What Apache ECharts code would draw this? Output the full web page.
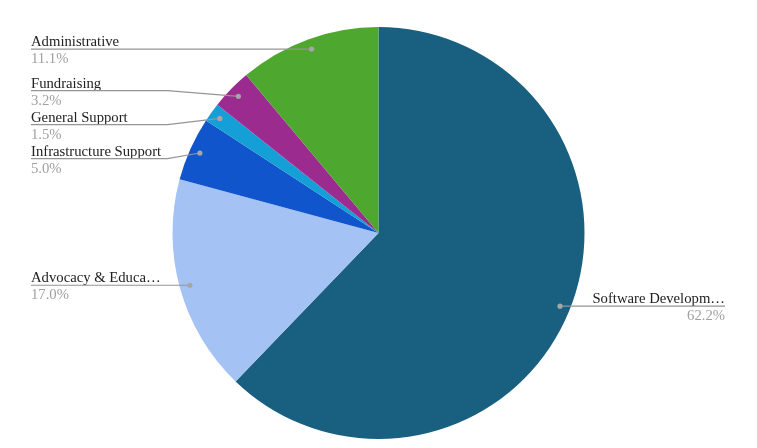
<!DOCTYPE html>
<html>
<head>
<meta charset="utf-8">
<title>Spending pie</title>
<script src="https://cdn.jsdelivr.net/npm/echarts@6/dist/echarts.min.js"></script>
<style>
html,body{margin:0;padding:0;background:#fff;}
#chart{width:757px;height:448px;}
</style>
</head>
<body>
<div id="chart"></div>
<script>
// data, clockwise from 12 o'clock
var names = ['Software Development', 'Advocacy & Education', 'Infrastructure Support', 'General Support', 'Fundraising', 'Administrative'];
var values = [62.2, 17.0, 5.0, 1.5, 3.2, 11.1];
var colors = ['#185f80', '#a4c2f4', '#1155cc', '#149fd6', '#9c2b90', '#4ea72e'];

var W = 757, CX = 378.5, CY = 233, R = 206;
var DOT = 0.95;      // where the label line starts, as part of the radius
var GAP = 34;        // vertical room one label needs
var MAXW = 133.3;    // longest label name before it gets cut
var FONT = 'Liberation Serif, Times New Roman, serif';
var FSIZE = 14.7;

var total = 0;
values.forEach(function (v) { total += v; });

// middle of each slice, in value units
var mids = [];
var acc = 0;
for (var i = 0; i < values.length; i++) {
    mids.push(acc + values[i] / 2);
    acc += values[i];
}

function dotPos(i) {
    var a = mids[i] / total * 2 * Math.PI;
    return [CX + DOT * R * Math.sin(a), CY - DOT * R * Math.cos(a)];
}

// cut long names with an ellipsis, like the sheet does
var ctx = document.createElement('canvas').getContext('2d');
ctx.font = FSIZE + 'px ' + FONT;
function shorten(s) {
    if (ctx.measureText(s).width <= MAXW) return s;
    var n = s.length;
    while (n > 0 && ctx.measureText(s.slice(0, n) + '\u2026').width > MAXW) n--;
    return s.slice(0, n).replace(/\s+$/, '') + '\u2026';
}

// label heights: start level with the dot, spread the ones that collide
// (a crowded group is centred between its first and last dot)
var labelY = [];
function spread(list) {
    list.sort(function (a, b) { return a.y - b.y; });
    var groups = list.map(function (o) { return { items: [o] }; });
    function place(g) {
        var n = g.items.length;
        var mid = (g.items[0].y + g.items[n - 1].y) / 2;
        g.top = mid - (n - 1) * GAP / 2;
    }
    groups.forEach(place);
    var changed = true;
    while (changed) {
        changed = false;
        for (var k = 0; k < groups.length - 1; k++) {
            var a = groups[k], b = groups[k + 1];
            if (a.top + a.items.length * GAP > b.top) {
                a.items = a.items.concat(b.items);
                place(a);
                groups.splice(k + 1, 1);
                changed = true;
                break;
            }
        }
    }
    groups.forEach(function (g) {
        g.items.forEach(function (o, j) { labelY[o.i] = g.top + j * GAP; });
    });
}
var leftSide = [], rightSide = [];
for (var i = 0; i < values.length; i++) {
    var d = dotPos(i);
    (d[0] < CX ? leftSide : rightSide).push({ i: i, y: d[1] });
}
spread(leftSide);
spread(rightSide);

function isLeft(i) { return dotPos(i)[0] < CX; }
function textX(i) { return isLeft(i) ? 31 : W - 32; }
function elbowX(i) { return isLeft(i) ? CX - R - 5 : CX + R + 5; }

var myChart = echarts.init(document.getElementById('chart'));

var option = {
    backgroundColor: '#ffffff',
    animation: false,
    polar: { center: [CX, CY], radius: R },
    angleAxis: {
        type: 'value', min: 0, max: total, startAngle: 90, clockwise: true, show: false,
        axisLine: { show: false }, axisLabel: { show: false }, axisTick: { show: false }, splitLine: { show: false }
    },
    radiusAxis: {
        type: 'value', min: 0, max: 1, show: false,
        axisLine: { show: false }, axisLabel: { show: false }, axisTick: { show: false }, splitLine: { show: false }
    },
    series: [
        {
            type: 'pie',
            z: 2,
            center: [CX, CY],
            radius: R,
            startAngle: 90,
            clockwise: true,
            silent: true,
            data: names.map(function (n, i) {
                return { name: n, value: values[i], itemStyle: { color: colors[i] } };
            }),
            itemStyle: { borderWidth: 0 },
            label: {
                show: true,
                position: 'outside',
                overflow: 'none',
                formatter: function (p) {
                    return '{n|' + shorten(p.name) + '}\n{p|' + values[p.dataIndex].toFixed(1) + '%}';
                },
                rich: {
                    n: { color: '#222222', fontSize: FSIZE, fontFamily: FONT, lineHeight: 17 },
                    p: { color: '#a0a0a0', fontSize: FSIZE, fontFamily: FONT, lineHeight: 17 }
                }
            },
            labelLine: { show: false },
            labelLayout: function (p) {
                var i = p.dataIndex;
                return {
                    x: textX(i),
                    y: labelY[i] + 1.5,
                    align: isLeft(i) ? 'left' : 'right',
                    verticalAlign: 'middle'
                };
            }
        },
        {
            // label lines, from a dot inside each slice out under the label text
            type: 'custom',
            coordinateSystem: 'polar',
            silent: true,
            z: 4,
            data: mids.map(function (m, i) { return [DOT, m, i]; }),
            renderItem: function (params, api) {
                var i = api.value(2);
                var dot = api.coord([api.value(0), api.value(1)]);
                var y = labelY[i];
                return {
                    type: 'group',
                    children: [
                        {
                            type: 'polyline',
                            shape: { points: [[textX(i), y], [elbowX(i), y], dot] },
                            style: { fill: null, stroke: '#959595', lineWidth: 1.2 }
                        },
                        {
                            type: 'circle',
                            shape: { cx: dot[0], cy: dot[1], r: 2.6 },
                            style: { fill: '#a6a6a6' }
                        }
                    ]
                };
            }
        }
    ]
};

myChart.setOption(option, true);
</script>
</body>
</html>
